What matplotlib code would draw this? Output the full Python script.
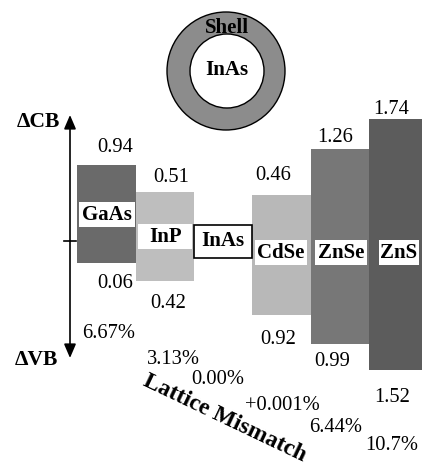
import matplotlib.pyplot as plt
from matplotlib.patches import Circle

plt.rcParams['font.family'] = ['Liberation Serif', 'DejaVu Serif']

# band alignment of shell materials relative to an InAs core
materials = ['GaAs', 'InP', 'InAs', 'CdSe', 'ZnSe', 'ZnS']
cb_offset = ['0.94', '0.51', '', '0.46', '1.26', '1.74']
vb_offset = ['0.06', '0.42', '', '0.92', '0.99', '1.52']
mismatch = ['6.67%', '3.13%', '0.00%', '+0.001%', '6.44%', '10.7%']
# schematic band edges (drawing units, not to scale, InAs level = 0)
cb_edge = [76, 49, 16, 46, 92, 122]
vb_edge = [-22, -40, -17, -74, -103, -129]

colors = ['#6a6a6a', '#bebebe', 'white', '#b8b8b8', '#777777', '#5c5c5c']

fig = plt.figure(figsize=(4.22, 4.68), dpi=100)
ax = fig.add_axes([0, 0, 1, 1])
ax.set_xlim(0, 422)
ax.set_ylim(-227, 241)
ax.axis('off')

step = 58.3
xs = [106.5 + i * step for i in range(len(materials))]
heights = [t - b for t, b in zip(cb_edge, vb_edge)]
bars = ax.bar(xs, heights, bottom=vb_edge, width=step, color=colors,
              edgecolor='none', zorder=1)
bars[2].set_edgecolor('black')
bars[2].set_linewidth(1.2)
bars[2].set_zorder(3)

num_font = dict(fontsize=14.8, ha='center', va='center')
lab_font = dict(fontsize=15, fontweight='bold', ha='center', va='center')

# material names in white boxes
name_dx = [0, 0.5, 0, -0.5, 1.5, 1]
name_dy = [26.5, 4.5, 0, -11.5, -11.5, -11.5]
box_w = [56, 54, 0, 52, 52, 40]
for i, name in enumerate(materials):
    cx = xs[i] + name_dx[i]
    if box_w[i]:
        ax.bar(cx, 25, bottom=name_dy[i] - 12.5, width=box_w[i],
               color='white', edgecolor='none', zorder=2)
    ax.text(cx, name_dy[i] - 0.5, name, zorder=4, **lab_font)

# band offset values
cb_dx = [9, 6, 0, -8, -5, -7]
cb_dy = [17, 15, 0, 20, 11, 10]
vb_dx = [9, 3, 0, -3, -8, -6]
vb_dy = [20, 22, 0, 25, 18, 27]
for i in range(len(materials)):
    if cb_offset[i]:
        ax.text(xs[i] + cb_dx[i], cb_edge[i] + cb_dy[i], cb_offset[i], **num_font)
    if vb_offset[i]:
        ax.text(xs[i] + vb_dx[i], vb_edge[i] - vb_dy[i], vb_offset[i], **num_font)

# lattice mismatch values along a diagonal
mm_dx = [2, 9, -5, 1, -4, -6]
mm_y = [-92, -119, -139, -164, -186, -204]
for i, m in enumerate(mismatch):
    ax.text(xs[i] + mm_dx[i], mm_y[i], m, **num_font)

ax.text(225, -177, 'Lattice Mismatch', fontsize=17, fontweight='bold',
        rotation=-25.5, rotation_mode='anchor', ha='center', va='center')

# energy axis
arrow = dict(arrowstyle='-|>,head_length=0.7,head_width=0.3', color='black',
             lw=1.2, mutation_scale=12, shrinkA=0, shrinkB=0)
ax.annotate('', xy=(70, 126), xytext=(70, 0), arrowprops=arrow)
ax.annotate('', xy=(70, -117), xytext=(70, 0), arrowprops=arrow)
ax.plot([64, 76], [0, 0], color='black', lw=1.2)
ax.text(60, 119, '\u0394CB', fontsize=15.5, fontweight='bold', ha='right', va='center')
ax.text(58, -119, '\u0394VB', fontsize=15.5, fontweight='bold', ha='right', va='center')

# core/shell sketch
ax.add_patch(Circle((226, 170), 59, facecolor='#8c8c8c', edgecolor='black', lw=1.0))
ax.add_patch(Circle((227, 170), 37, facecolor='white', edgecolor='black', lw=1.0))
ax.text(227, 213, 'Shell', **lab_font)
ax.text(227, 171, 'InAs', **lab_font)

fig.savefig('out.png', dpi=100)
